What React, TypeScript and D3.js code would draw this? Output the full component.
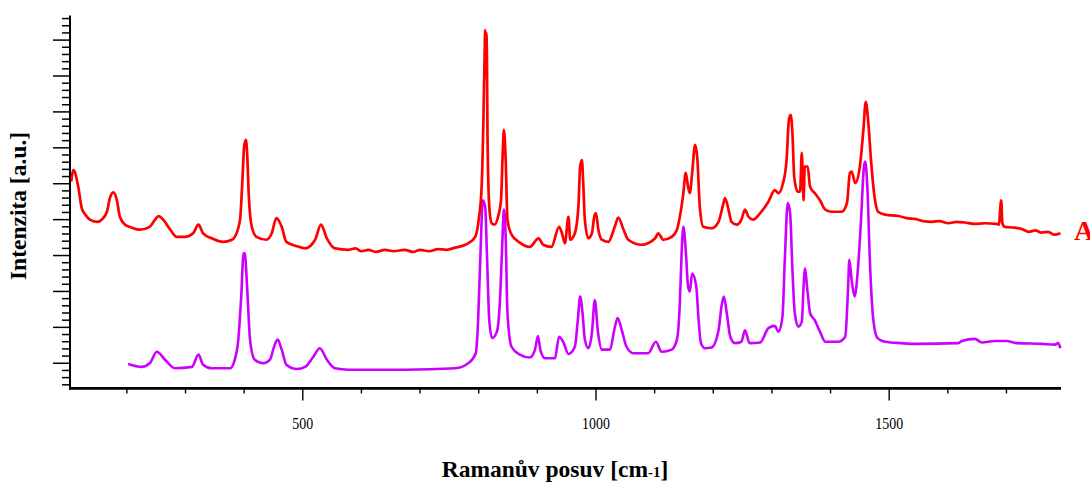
import React from "react";
import * as d3 from "d3";

// Raman spectra: [wavenumber cm-1, intensity a.u.]
const spectrumA: [number, number][] = [
  [105, 30.3], [109, 31.9], [117, 29.6], [123, 26.6], [129, 25.7], [137, 25.0], [149, 24.7], [157, 25.0],
  [166, 26.1], [171, 28.0], [177, 28.8], [183, 27.7], [188, 25.4], [197, 24.3], [208, 23.9], [222, 23.6],
  [239, 24.0], [248, 25.0], [254, 25.5], [262, 25.0], [274, 23.6], [285, 22.6], [299, 22.6], [313, 23.1],
  [322, 24.3], [330, 23.1], [345, 22.4], [364, 21.9], [379, 22.2], [384, 22.6], [393, 25.0], [397, 30.5],
  [400, 35.2], [403, 36.1], [405, 34.3], [408, 28.2], [413, 24.0], [421, 22.6], [438, 22.2], [447, 23.1],
  [455, 25.2], [464, 24.0], [472, 21.9], [490, 21.3], [504, 21.0], [521, 22.2], [531, 24.3], [541, 22.4],
  [555, 21.0], [578, 20.8], [590, 21.0], [600, 20.6], [612, 20.8], [625, 20.5], [640, 20.8], [655, 20.6],
  [674, 20.8], [688, 20.5], [700, 20.8], [715, 20.6], [731, 20.9], [745, 20.8],
  [760, 21.1], [782, 21.7], [794, 22.6], [800, 25.0], [805, 29.6], [808, 38.9], [810, 47.7], [811, 51.4],
  [812, 45.0], [813, 51.0], [814, 47.7], [815, 36.6], [818, 26.8], [822, 24.5], [827, 24.3], [833, 25.4],
  [838, 27.7], [841, 34.3], [843, 37.5], [846, 33.3], [849, 25.0], [856, 22.9], [870, 21.8], [887, 21.2],
  [902, 22.4], [910, 21.5], [924, 21.2], [937, 24.0], [942, 23.1], [947, 21.7], [953, 25.4], [956, 22.2],
  [964, 23.1], [970, 26.8], [973, 32.4], [976, 33.3], [978, 30.5], [981, 25.0], [987, 22.4], [993, 23.1],
  [997, 25.4], [1000, 25.9], [1004, 23.6], [1010, 22.2], [1021, 21.9], [1032, 24.0], [1038, 25.3],
  [1047, 23.6], [1055, 22.2], [1078, 21.5], [1101, 22.4], [1106, 23.1], [1115, 22.2], [1129, 22.6],
  [1138, 23.6], [1143, 25.4], [1149, 28.7], [1153, 31.5], [1157, 29.6], [1160, 28.7], [1164, 31.5],
  [1169, 35.4], [1173, 33.3], [1177, 26.8], [1183, 24.0], [1197, 23.8], [1209, 24.7], [1216, 26.8],
  [1220, 28.0], [1226, 26.4], [1231, 24.7], [1240, 24.3], [1248, 25.0], [1254, 26.4], [1260, 25.4],
  [1268, 25.0], [1280, 25.9], [1294, 27.5], [1305, 29.1], [1311, 28.7], [1319, 30.1], [1325, 33.3],
  [1329, 38.9], [1332, 39.6], [1335, 37.0], [1338, 31.0], [1344, 28.9], [1348, 28.9], [1351, 34.3],
  [1354, 27.7], [1356, 32.4], [1361, 32.4], [1365, 29.6], [1373, 28.7], [1382, 27.7], [1391, 26.4],
  [1402, 26.1], [1419, 26.1], [1428, 27.3], [1433, 31.5], [1436, 31.7], [1442, 30.1], [1450, 32.4],
  [1456, 37.5], [1460, 41.4], [1464, 38.9], [1469, 33.3], [1475, 28.2], [1481, 26.1], [1493, 25.7],
  [1516, 25.5], [1530, 25.2], [1544, 25.1], [1558, 24.8], [1572, 24.7], [1586, 24.8], [1601, 24.5],
  [1615, 24.7], [1629, 24.6], [1645, 24.4], [1663, 24.5], [1683, 24.4],
  [1687, 24.3], [1691, 27.7], [1693, 24.5], [1697, 24.0], [1712, 23.9], [1726, 23.7], [1738, 23.3],
  [1749, 23.5], [1760, 23.2], [1771, 23.3], [1782, 22.9], [1792, 23.1],
];

const spectrumB: [number, number][] = [
  [202, 4.9], [225, 4.5], [239, 5.0], [251, 6.6], [265, 5.5], [282, 4.3], [311, 4.5], [322, 6.2],
  [330, 4.8], [345, 4.3], [376, 4.3], [384, 5.5], [390, 8.3], [395, 14.3], [399, 20.3], [401, 20.3],
  [405, 15.7], [410, 8.3], [418, 5.5], [433, 5.0], [444, 5.5], [451, 7.3], [457, 8.3], [464, 6.9],
  [472, 4.8], [490, 4.2], [504, 4.5], [518, 5.9], [529, 7.1], [541, 5.5], [555, 4.3], [578, 4.1],
  [674, 4.1], [760, 4.3], [782, 5.0], [795, 6.4], [799, 11.0], [803, 20.3], [807, 27.7], [811, 26.8],
  [814, 20.3], [818, 11.0], [823, 8.5], [831, 9.4], [836, 13.4], [840, 21.2], [843, 26.4], [846, 22.6],
  [849, 12.0], [856, 7.3], [870, 6.2], [887, 5.8], [896, 6.9], [901, 8.8], [905, 6.9], [913, 5.7],
  [930, 5.7], [937, 8.7], [944, 8.0], [953, 6.3], [964, 7.3], [969, 11.0], [973, 14.3], [977, 12.0],
  [981, 8.3], [987, 7.1], [993, 9.2], [998, 13.8], [1003, 9.6], [1010, 6.9], [1024, 6.9], [1031, 9.6],
  [1037, 11.3], [1044, 9.6], [1052, 7.3], [1064, 6.4], [1089, 6.4], [1102, 8.0], [1112, 6.6],
  [1129, 6.9], [1138, 8.3], [1143, 13.4], [1146, 20.3], [1149, 24.0], [1153, 20.8], [1157, 15.7],
  [1160, 15.0], [1164, 17.5], [1171, 15.7], [1175, 11.0], [1179, 7.8], [1186, 7.1], [1197, 7.2],
  [1209, 9.6], [1214, 12.9], [1218, 14.3], [1223, 12.0], [1229, 8.7], [1237, 7.8], [1248, 8.0],
  [1254, 9.6], [1262, 7.8], [1280, 7.9], [1294, 9.9], [1305, 10.2], [1311, 9.4], [1318, 11.5],
  [1322, 19.4], [1327, 27.3], [1331, 25.9], [1335, 18.0], [1339, 12.0], [1345, 10.1], [1351, 10.8],
  [1354, 15.7], [1356, 18.2], [1361, 14.8], [1365, 12.0], [1373, 11.0], [1382, 9.4], [1391, 8.0],
  [1413, 8.0], [1425, 8.7], [1430, 15.7], [1432, 19.4], [1436, 16.6], [1441, 14.3], [1447, 18.5],
  [1452, 25.0], [1457, 32.4], [1459, 33.1], [1463, 29.1], [1467, 19.4], [1473, 11.0], [1480, 8.5],
  [1493, 8.0], [1521, 7.8], [1544, 7.7], [1618, 7.8], [1624, 8.1], [1646, 8.4], [1658, 7.9],
  [1680, 8.1], [1700, 8.1], [1717, 7.8], [1760, 7.7], [1783, 7.6], [1788, 7.8], [1792, 7.1],
];

const xDomain: [number, number] = [103, 1793];
const yDomain: [number, number] = [1.5, 53.3];
const xMajorTicks = [500, 1000, 1500];
const xMinorTicks = [200, 300, 400, 600, 700, 800, 900, 1100, 1200, 1300, 1400, 1600, 1700];
const yTicks = d3.range(2, 54);
const xTitle = "Ramanův posuv [cm";
const xTitleSup = "-1";
const yTitle = "Intenzita [a.u.]";
const seriesLabel = "A";

const W = 1090;
const H = 483;
const L = 70, R = 1061, T = 16.4, B = 388.4;

export default function App() {
  const x = d3.scaleLinear().domain(xDomain).range([L, R]);
  const y = d3.scaleLinear().domain(yDomain).range([B, T]);
  const line = d3
    .line<[number, number]>()
    .x((d) => x(d[0]))
    .y((d) => y(d[1]))
    .curve(d3.curveMonotoneX);
  const font = "'Liberation Serif', 'Times New Roman', serif";

  return (
    <svg
      width={W}
      height={H}
      style={{ position: "absolute", left: 0, top: 0, background: "#fff" }}
    >
      <path d={line(spectrumB) || ""} fill="none" stroke="#cc00ff" strokeWidth={2.6} strokeLinejoin="round" />
      <path d={line(spectrumA) || ""} fill="none" stroke="#ff0000" strokeWidth={2.7} strokeLinejoin="round" />

      {/* y axis */}
      <line x1={L} x2={L} y1={T - 1} y2={B + 1} stroke="#000" strokeWidth={2} />
      {yTicks.map((t) => (
        <line
          key={"y" + t}
          x1={L}
          x2={t % 5 === 0 ? L - 17 : L - 8}
          y1={y(t)}
          y2={y(t)}
          stroke="#000"
          strokeWidth={1.5}
        />
      ))}

      {/* x axis */}
      <line x1={L - 1} x2={R} y1={B} y2={B} stroke="#000" strokeWidth={2.6} />
      {xMinorTicks.map((t) => (
        <line key={"xm" + t} x1={x(t)} x2={x(t)} y1={B} y2={B + 5} stroke="#000" strokeWidth={1.4} />
      ))}
      {xMajorTicks.map((t) => (
        <g key={"xM" + t}>
          <line x1={x(t)} x2={x(t)} y1={B} y2={B + 12} stroke="#000" strokeWidth={1.4} />
          <g transform={`translate(${x(t)},429) scale(0.82,1)`}>
            <text textAnchor="middle" fontFamily={font} fontSize={17} fill="#000">
              {t}
            </text>
          </g>
        </g>
      ))}

      <text
        x={555}
        y={477}
        textAnchor="middle"
        fontFamily={font}
        fontSize={23.5}
        fontWeight="bold"
        fill="#000"
      >
        {xTitle}
        <tspan fontSize={15}>{xTitleSup}</tspan>]
      </text>

      <text
        transform="translate(26,206) rotate(-90)"
        textAnchor="middle"
        fontFamily={font}
        fontSize={23.5}
        fontWeight="bold"
        fill="#000"
      >
        {yTitle}
      </text>

      <text x={1074} y={240} fontFamily={font} fontSize={28} fontWeight="bold" fill="#ff0000">
        {seriesLabel}
      </text>
    </svg>
  );
}
